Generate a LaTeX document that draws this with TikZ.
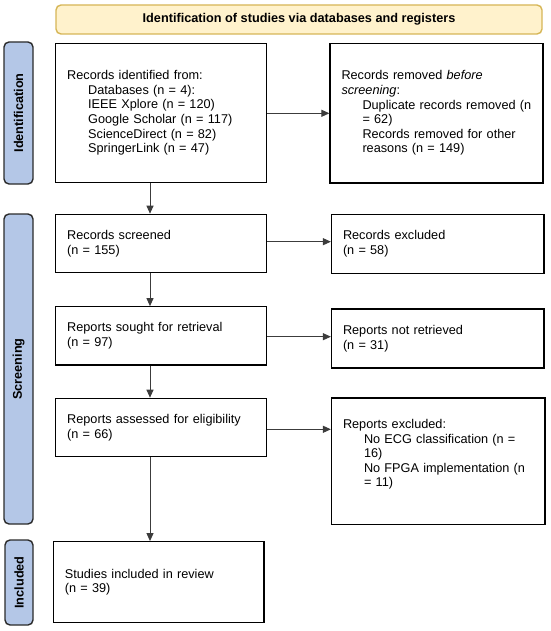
\documentclass[tikz,border=0pt]{standalone}
\usepackage{fontspec}
\setmainfont{Liberation Sans}
\usetikzlibrary{arrows.meta}
\definecolor{bannerfill}{HTML}{FFF2CC}
\definecolor{bannerdraw}{HTML}{D6B656}
\definecolor{sidefill}{HTML}{B4C7E7}
\definecolor{sidedraw}{HTML}{2B2B2B}
\definecolor{arrowgray}{HTML}{3C3C3C}
\newcommand\indl[1]{\mbox{\hspace*{21pt}#1}}
\begin{document}
\begin{tikzpicture}[x=1pt,y=-1pt,
  txtfont/.style={font=\fontsize{12.7}{14.6}\selectfont},
  flowbox/.style={draw=black, line width=1.2pt, rectangle, inner xsep=11.5pt, inner ysep=0pt, align=left, txtfont},
  sidebox/.style={draw=sidedraw, fill=sidefill, line width=1.4pt, rounded corners=5pt, rotate=90, inner sep=0pt, font=\bfseries\fontsize{12.7}{14.6}\selectfont},
  bannerbox/.style={draw=bannerdraw, fill=bannerfill, line width=1.4pt, rounded corners=5pt, inner sep=0pt, font=\bfseries\fontsize{12.7}{14.6}\selectfont},
  flowarrow/.style={draw=arrowgray, line width=1pt, -{Triangle[length=8pt,width=7pt]}}
]
\useasboundingbox (0,0) rectangle (550,631);

% banner
\node[bannerbox, minimum width=486pt, minimum height=29pt] (banner) at (299,19.5) {Identification of studies via databases and registers};

% side labels
\node[sidebox, minimum width=142pt, minimum height=29pt] (side1) at (18.5,113) {Identification};
\node[sidebox, minimum width=310pt, minimum height=29pt] (side2) at (18.5,369) {Screening};
\node[sidebox, minimum width=85pt, minimum height=28pt] (side3) at (19,582.5) {Included};

% left column
\node[flowbox, minimum width=211pt, minimum height=139.4pt, text width=188pt] (box1) at (161.2,113)
  {Records identified from:\\\indl{Databases (n = 4):}\\\indl{IEEE Xplore (n = 120)}\\\indl{Google Scholar (n = 117)}\\\indl{ScienceDirect (n = 82)}\\\indl{SpringerLink (n = 47)}};
\node[flowbox, minimum width=211pt, minimum height=58.4pt, text width=188pt] (box3) at (161.2,243.5)
  {Records screened\\(n = 155)};
\node[flowbox, minimum width=211pt, minimum height=58.3pt, text width=188pt] (box5) at (161.2,335.9)
  {Reports sought for retrieval\\(n = 97)};
\node[flowbox, minimum width=211pt, minimum height=58.4pt, text width=188pt] (box7) at (161.2,427.5)
  {Reports assessed for eligibility\\(n = 66)};
\node[flowbox, minimum width=210.7pt, minimum height=81pt, text width=187.7pt] (box9) at (158.7,582.2)
  {Studies included in review\\(n = 39)};

% right column
\node[flowbox, minimum width=213pt, minimum height=139.7pt, text width=190pt] (box2) at (436.5,113.2)
  {Records removed \textit{before}\\\textit{screening}:\\\indl{Duplicate records removed (n}\\\indl{= 62)}\\\indl{Records removed for other}\\\indl{reasons (n = 149)}};
\node[flowbox, minimum width=212.5pt, minimum height=59pt, text width=189.5pt] (box4) at (437.75,243.8)
  {Records excluded\\(n = 58)};
\node[flowbox, minimum width=212.5pt, minimum height=59pt, text width=189.5pt] (box6) at (437.75,338.5)
  {Reports not retrieved\\(n = 31)};
\node[flowbox, minimum width=213.5pt, minimum height=126.5pt, text width=190.5pt] (box8) at (438.25,461.25) {};
\node[txtfont, inner sep=0pt, text width=190.5pt, align=left] (t8) at ([yshift=6.75pt]box8.center)
  {Reports excluded:\\\indl{No ECG classification (n =}\\\indl{16)}\\\indl{No FPGA implementation (n}\\\indl{= 11)}};

% arrows
\coordinate (colx) at (150,0);
\coordinate (r1) at (0,113.3);
\coordinate (r2) at (0,241.7);
\coordinate (r3) at (0,336.7);
\coordinate (r4) at (0,429.3);
\draw[flowarrow] (box1.south -| colx) -- (box3.north -| colx);
\draw[flowarrow] (box3.south -| colx) -- (box5.north -| colx);
\draw[flowarrow] (box5.south -| colx) -- (box7.north -| colx);
\draw[flowarrow] (box7.south -| colx) -- (box9.north -| colx);
\draw[flowarrow] (box1.east |- r1) -- (box2.west |- r1);
\draw[flowarrow] (box3.east |- r2) -- (box4.west |- r2);
\draw[flowarrow] (box5.east |- r3) -- (box6.west |- r3);
\draw[flowarrow] (box7.east |- r4) -- (box8.west |- r4);
\end{tikzpicture}
\end{document}
